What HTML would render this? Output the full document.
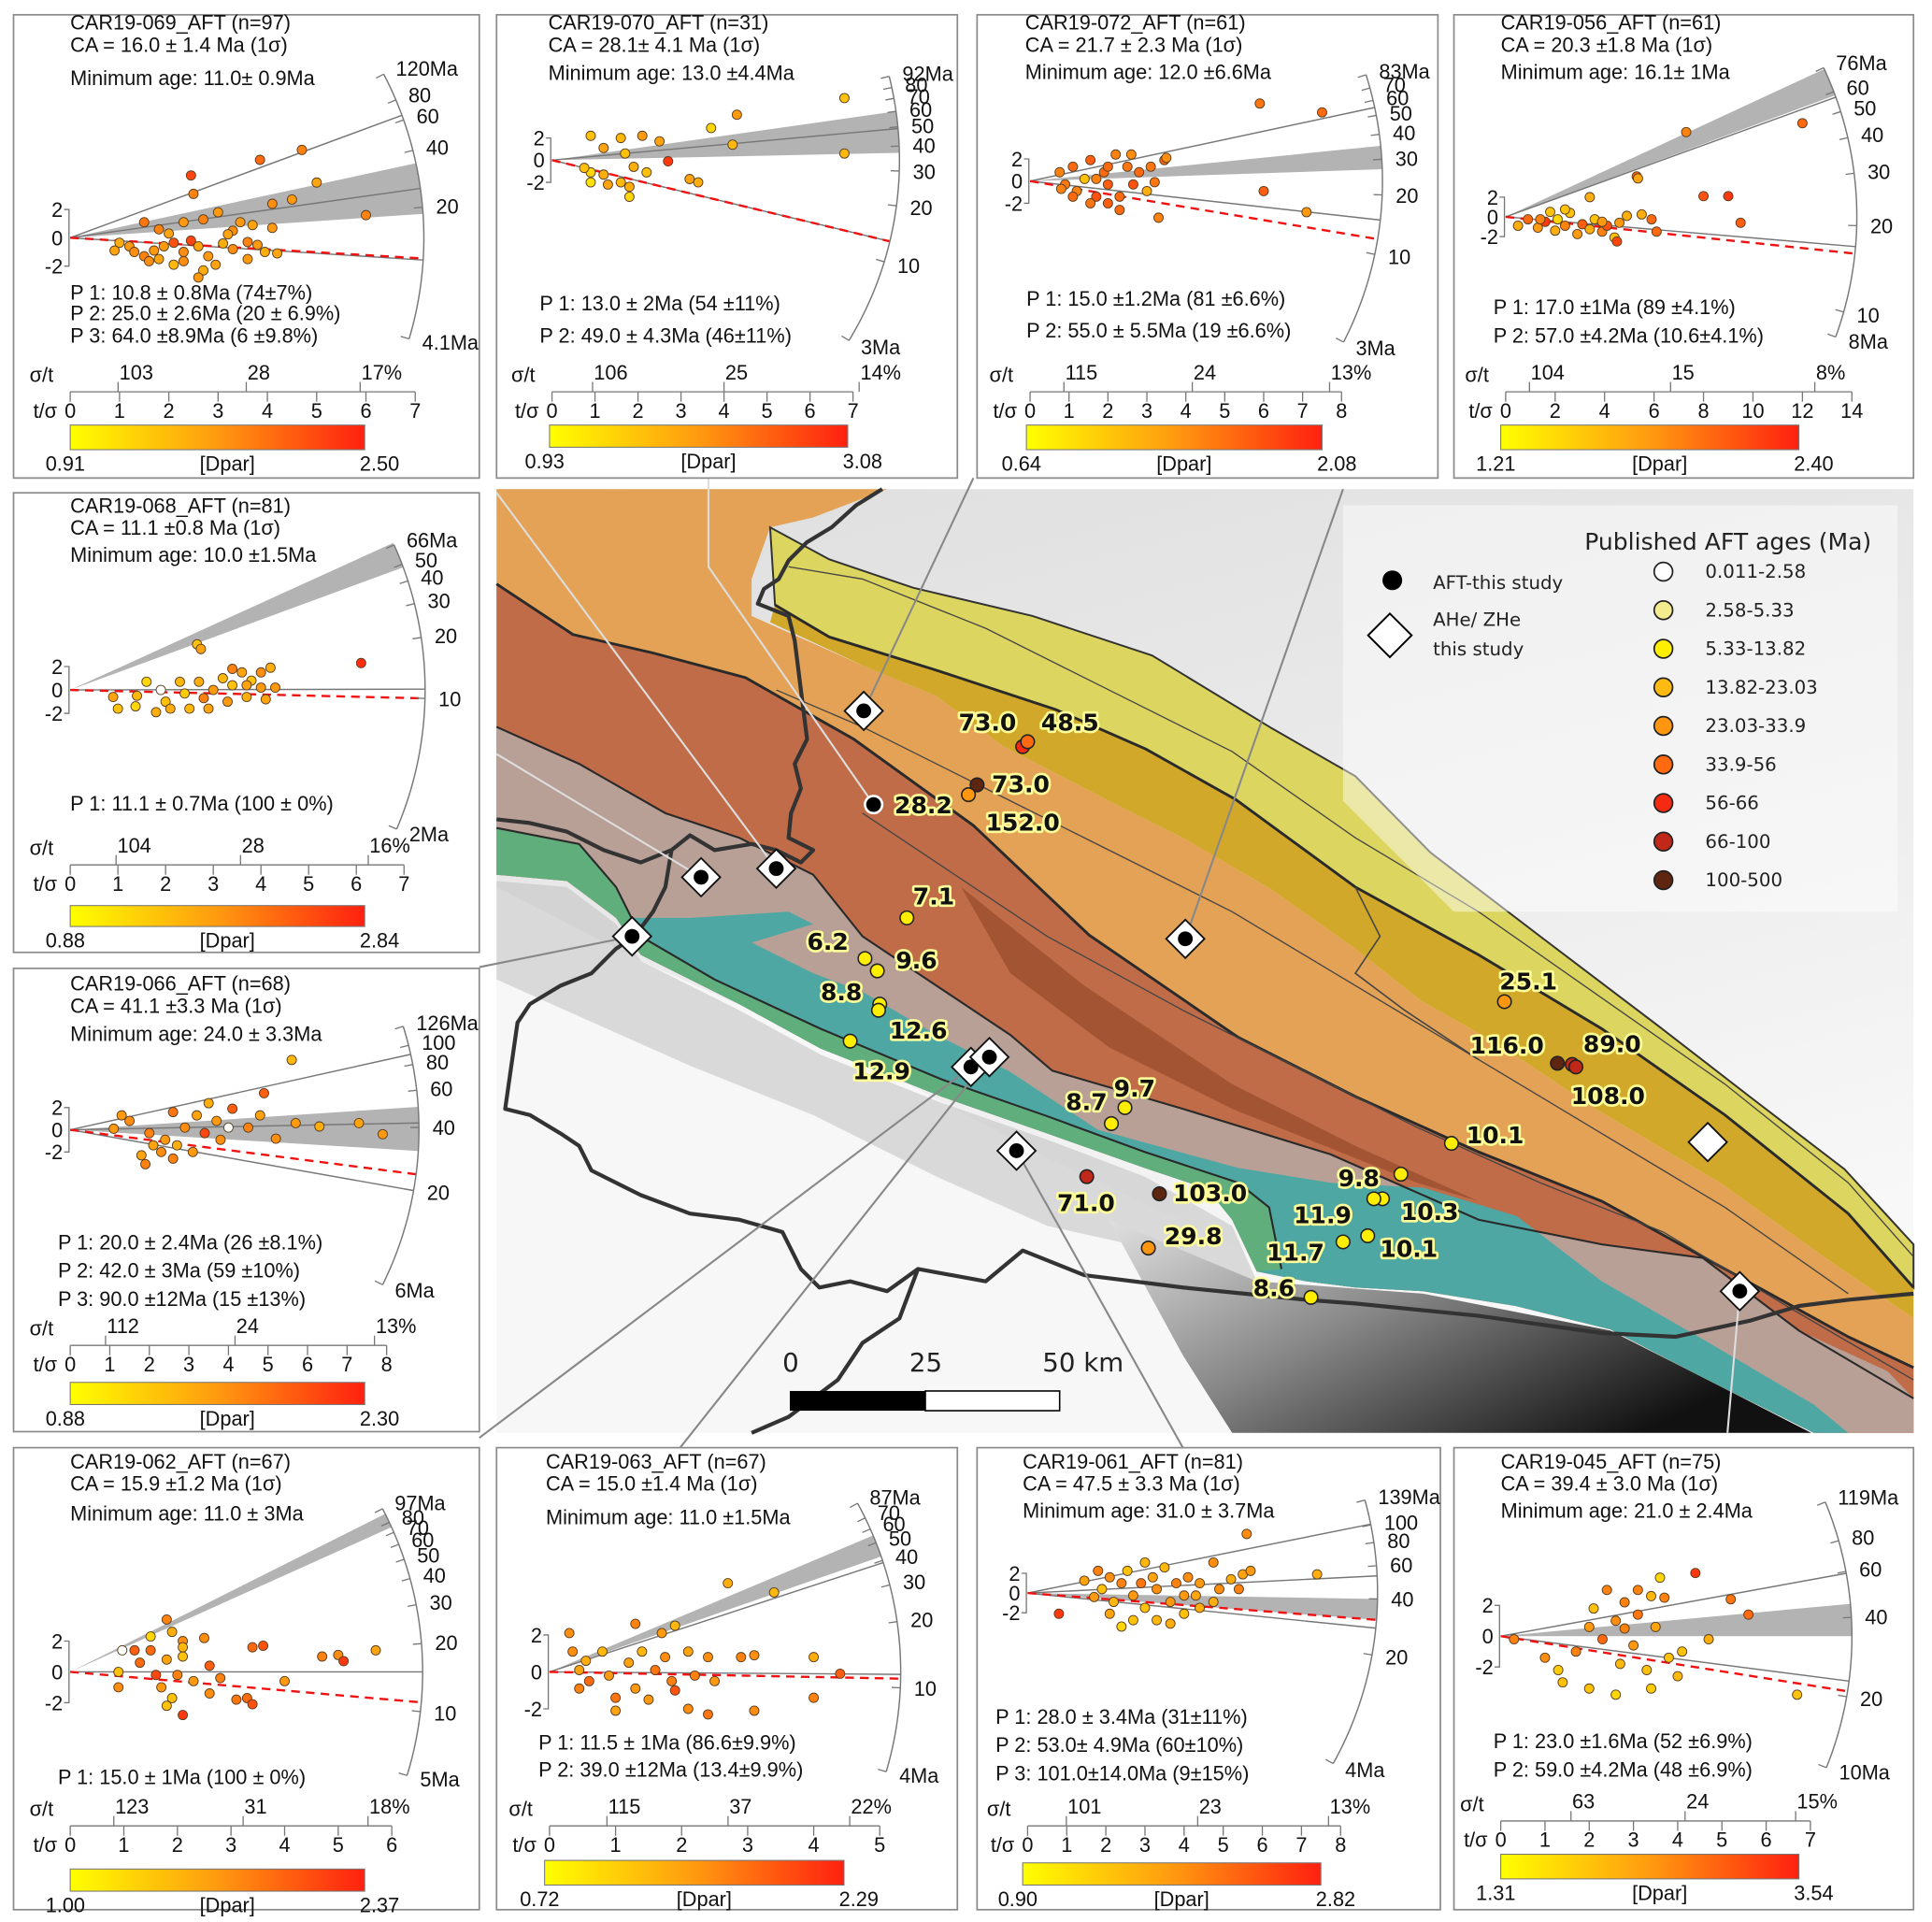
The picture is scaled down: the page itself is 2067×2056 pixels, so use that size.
<!DOCTYPE html>
<html><head><meta charset="utf-8"><style>
html,body{margin:0;padding:0;background:#fff;}
svg{display:block;}
.pt{font-family:"Liberation Sans",sans-serif;font-size:16.5px;fill:#111;}
.pw{font-family:"Liberation Sans",sans-serif;font-size:16.5px;fill:#111;}
.ml{font-family:"DejaVu Sans","Liberation Sans",sans-serif;font-weight:bold;font-size:19px;fill:#111;stroke:#ffff99;stroke-width:4px;paint-order:stroke;stroke-linejoin:round;}
.lg{font-family:"DejaVu Sans","Liberation Sans",sans-serif;font-size:15px;fill:#222;}
</style></head><body>
<svg id="fig" xmlns="http://www.w3.org/2000/svg" width="2067" height="2056" viewBox="0 0 1568 1560" preserveAspectRatio="none">
<defs>
<linearGradient id="cbg" x1="0" x2="1" y1="0" y2="0"><stop offset="0" stop-color="#ffff00"/><stop offset="0.5" stop-color="#ff9a10"/><stop offset="1" stop-color="#ff2010"/></linearGradient>
<linearGradient id="dark" x1="0" x2="1" y1="0" y2="0.6"><stop offset="0" stop-color="#e0e0e0"/><stop offset="0.45" stop-color="#8a8a8a"/><stop offset="1" stop-color="#111"/></linearGradient>
<linearGradient id="bgm" x1="0" x2="0.4" y1="0" y2="1"><stop offset="0" stop-color="#dedede"/><stop offset="0.55" stop-color="#ececec"/><stop offset="1" stop-color="#f8f8f8"/></linearGradient>
</defs>
<g id="map">
<rect x="403" y="397" width="1150" height="766" fill="url(#bgm)"/>
<polygon points="403,720 520,780 700,860 850,940 1000,1010 1100,1060 1300,1100 1470,1163 403,1163" fill="#f7f7f7"/>
<polygon points="403,715 460,720 500,750 520,780 600,820 666,856 764,895 850,925 929,955 1000,995 1020,1040 940,1015 850,995 760,955 660,905 560,865 470,825 403,795" fill="#c4c4c4" opacity="0.6"/>
<polygon points="900,990 1020,1040 1155,1050 1307,1080 1382,1118 1470,1163 1000,1163 960,1100" fill="url(#dark)"/>
<polygon fill="#e3a255" points="403,397 720,397 660,420 625,428 610,470 610,500 700,540 760,565 813,605 900,650 960,680 1032,722 1100,770 1153,812 1220,850 1295,900 1396,960 1480,1020 1553,1070 1553,1163 1472,1163 1382,1118 1307,1079 1230,1060 1155,1048 1100,1045 1060,1040 1020,1032 1000,990 980,965 929,948 850,920 764,890 666,851 600,815 520,775 500,745 460,715 403,710"/>
<polygon fill="#dcd660" stroke="#333" stroke-width="1.5" points="625,428 673,454 741,477 838,500 935,532 1032,591 1100,630 1161,692 1250,760 1345,832 1420,890 1497,949 1553,1010 1553,1045 1500,985 1400,905 1300,835 1200,775 1100,720 1003,649 930,608 857,576 760,544 673,517 629,491"/>
<polygon fill="#d2a82a" points="629,491 673,517 760,544 857,576 930,608 1003,649 1100,720 1200,775 1300,835 1400,905 1500,985 1553,1045 1553,1070 1480,1020 1396,960 1295,900 1220,850 1153,812 1100,770 1032,722 960,680 900,650 813,605 760,565 700,540 625,505"/>
<polygon fill="#c06c48" points="403,474 465,515 530,530 605,550 693,600 790,670 884,759 1005,842 1100,890 1200,935 1300,975 1400,1030 1500,1085 1553,1110 1553,1163 1472,1163 1382,1118 1307,1079 1230,1060 1155,1048 1100,1045 1060,1040 1020,1032 1000,990 980,965 929,948 850,920 764,890 666,851 600,815 520,775 500,745 460,715 403,710"/>
<polygon fill="#8a4322" opacity="0.55" points="780,720 880,800 1000,880 1100,930 1200,975 1150,960 1000,900 900,850 820,790"/>
<polygon fill="#b8a096" points="403,590 470,620 540,660 600,680 660,710 700,760 760,800 820,840 854,869 960,900 1080,937 1200,990 1300,1010 1382,1021 1460,1080 1532,1113 1553,1135 1553,1163 1472,1163 1382,1118 1307,1079 1230,1060 1155,1048 1100,1045 1060,1040 1020,1032 1000,990 980,965 929,948 850,920 764,890 666,851 600,815 520,775 500,745 460,715 403,710"/>
<polygon fill="#4ea7a2" points="510,745 560,745 640,740 660,750 610,765 660,790 700,805 760,840 820,870 891,917 1005,948 1080,960 1155,964 1231,987 1300,1040 1382,1087 1472,1140 1500,1163 1472,1163 1382,1118 1307,1079 1230,1060 1155,1048 1100,1045 1060,1040 1020,1032 1000,990 980,965 929,948 850,920 764,890 666,851 600,815 520,775"/>
<polygon fill="#5fae7c" points="403,672 470,685 500,720 520,760 580,795 666,835 764,876 850,906 929,935 980,952 1005,960 1030,980 1040,1030 1020,1032 1000,990 980,965 929,948 850,920 764,890 666,851 600,815 520,775 500,745 460,715 403,710"/>
<g fill="none" stroke="#2a2a2a">
<polyline stroke-width="2.2" points="403,474 465,515 530,530 605,550 693,600 790,670 884,759 1005,842 1100,890 1200,935 1300,975 1400,1030 1500,1085 1553,1110"/>
<polyline stroke-width="2.2" points="629,491 673,517 760,544 857,576 930,608 1003,649 1100,720 1200,775 1300,835 1400,905 1500,985 1553,1045"/>
<polyline stroke-width="1.6" points="403,590 470,620 540,660 600,680 660,710 700,760 760,800 820,840 854,869 960,900 1080,937 1200,990 1300,1010 1382,1021 1460,1080 1553,1135"/>
<polyline stroke-width="1.6" points="403,672 470,685 500,720 520,760 580,795 666,835 764,876 850,906 929,935 1005,960 1030,980 1040,1030"/>
<polyline stroke-width="1" stroke="#444" points="640,460 700,470 800,510 900,560 1000,610 1100,680 1200,740 1300,810 1400,880 1500,960 1553,1020"/>
<polyline stroke-width="1" stroke="#444" points="700,660 760,700 850,760 960,820 1060,870 1150,915 1250,960 1350,1000 1450,1060 1553,1120"/>
<polyline stroke-width="1" stroke="#444" points="630,560 700,590 800,640 900,690 1000,740 1100,800 1200,860 1300,920 1400,980 1500,1050"/>
<polyline stroke-width="1.2" stroke="#444" points="1100,720 1120,760 1100,790 1140,820 1200,860"/>
</g>
<g fill="none" stroke="#333" stroke-width="3.2" stroke-linejoin="round">
<polyline points="716,397 695,410 675,428 655,440 640,455 632,470 620,478 615,490 640,500 645,520 650,560 655,600 645,620 650,640 642,660 640,680 660,690 650,700 630,690 610,685 580,690 560,678 545,690 540,720 530,740 515,760 500,770 480,790 455,800 430,815 420,830 410,900 430,905 455,920 470,930 480,950 520,970 560,985 600,990 635,1000 650,1030 665,1045 690,1040 720,1048 745,1030 800,1040 830,1015 880,1035 960,1045 1010,1050 1060,1055 1100,1058 1200,1068 1300,1082 1360,1085 1420,1072 1460,1060 1500,1055 1553,1050"/>
<polyline points="403,665 430,668 460,675 490,690 520,700 545,690"/>
<polyline points="745,1030 730,1070 700,1090 680,1120 640,1150 610,1163"/>
</g>
<polygon points="1090,410 1540,410 1540,740 1180,740 1090,650" fill="#ffffff" opacity="0.45"/>
<g fill="none" stroke-width="1.6">
<polyline stroke="#ddd" points="403,400 630,705"/>
<polyline stroke="#ddd" points="575,388 575,460 709,653"/>
<polyline stroke="#ddd" points="403,612 569,712"/>
<polyline stroke="#888" points="389,785 513,760"/>
<polyline stroke="#888" points="790,388 701,577"/>
<polyline stroke="#888" points="1090,397 962,762"/>
<polyline stroke="#888" points="389,1167 788,866"/>
<polyline stroke="#888" points="552,1175 803,858"/>
<polyline stroke="#888" points="825,934 960,1175"/>
<polyline stroke="#ddd" points="1412,1048 1402,1163"/>
</g>
<g id="sites"></g>
<g>
<text class="lg" x="635" y="1113" style="font-size:21px">0</text>
<text class="lg" x="738" y="1113" style="font-size:21px">25</text>
<text class="lg" x="846" y="1113" style="font-size:21px">50 km</text>
<rect x="641" y="1129" width="110" height="16" fill="#000"/>
<rect x="751" y="1129" width="109" height="16" fill="#fff" stroke="#000" stroke-width="1.2"/>
</g>
<g>
<text class="lg" x="1286" y="446" style="font-size:19px">Published AFT ages (Ma)</text>
<circle cx="1130" cy="471" r="8" fill="#000"/>
<text class="lg" x="1163" y="478">AFT-this study</text>
<rect x="1116" y="503" width="25" height="25" fill="#fff" stroke="#000" stroke-width="1.5" transform="rotate(45 1128 515)"/>
<text class="lg" x="1163" y="508">AHe/ ZHe</text>
<text class="lg" x="1163" y="532">this study</text>
<g id="legItems"></g>
</g>
</g>
<g id="panels"></g>
</svg>
<script>
// ---------- chart data: per-panel points [t/sigma, standardized estimate, Dpar fraction] ----------
const pts069=[[2.45,4.4,.85],[2.5,3.1,.6],[4.7,6.2,.6],[3.85,5.5,.7],[5.0,3.9,.45],[6.0,1.6,.6],[4.5,2.7,.5],[4.1,2.4,.55],[1.5,1.1,.65],[1.8,.6,.6],[2.3,1.1,.5],[2.0,.3,.45],[2.7,1.3,.6],[3.0,1.8,.5],[3.3,.5,.55],[3.7,.9,.45],[4.1,.7,.5],[1.0,-.35,.4],[1.2,-.6,.5],[1.3,-1.0,.55],[1.5,-1.3,.6],[1.7,-.9,.5],[1.8,-1.5,.45],[2.1,-.35,.8],[2.3,-1.0,.55],[2.6,-.6,.45],[2.8,-1.3,.5],[3.1,-.4,.4],[3.3,-.8,.55],[3.6,-.3,.6],[3.8,-.5,.5],[4.2,-1.1,.45],[2.3,-1.65,.55],[2.1,-1.9,.35],[2.7,-2.3,.4],[2.95,-1.9,.45],[2.6,-2.8,.5],[1.6,-1.65,.55],[1.9,-.6,.5],[2.45,-.2,.85],[3.2,.25,.45],[3.45,1.1,.5],[.9,-.9,.45],[3.6,-1.5,.5],[3.95,-1.0,.4]];
const pts070=[[6.8,5.6,.3],[4.3,4.1,.5],[3.7,2.9,.2],[4.2,1.4,.35],[6.8,.6,.35],[2.7,-.1,.9],[.9,2.2,.3],[1.2,1.1,.45],[1.6,2.0,.35],[2.1,2.2,.5],[2.5,1.7,.45],[1.7,.6,.3],[1.9,-.6,.4],[2.2,-1.1,.3],[.9,-1.1,.2],[.9,-2.0,.15],[1.2,-1.3,.4],[1.3,-2.2,.45],[1.6,-2.0,.35],[1.8,-2.4,.4],[1.8,-3.3,.2],[3.4,-2.0,.4],[3.2,-1.7,.45],[.75,-.7,.3]];
const pts072=[[5.9,7.0,.65],[7.5,6.2,.7],[3.45,1.9,.7],[3.5,2.1,.55],[6.0,-.9,.75],[7.1,-2.8,.5],[3.3,-3.3,.6],[.76,.8,.6],[.9,-.3,.65],[1.1,1.3,.7],[1.2,-.9,.6],[1.4,.2,.3],[1.55,1.9,.75],[1.7,-1.4,.8],[1.9,.8,.7],[2.0,-.3,.75],[2.2,2.4,.6],[2.3,-1.4,.7],[2.5,1.3,.65],[2.65,-.3,.8],[2.8,.8,.7],[3.0,-.9,.4],[3.1,1.3,.65],[2.0,-2.0,.75],[2.3,-2.6,.7],[1.7,.2,.6],[1.1,-1.4,.7],[1.55,-2.0,.65],[2.6,2.4,.55],[2.0,1.3,.7],[3.2,-.1,.65],[.8,-.7,.6]];
const pts056=[[12.0,9.5,.7],[7.3,8.6,.6],[5.3,4.1,.75],[5.35,3.9,.45],[3.4,2.0,.4],[.5,-.9,.4],[.9,-.25,.7],[1.3,-1.1,.5],[1.6,-.5,.9],[1.8,.5,.3],[2.0,-1.4,.4],[2.1,-.25,.2],[2.4,-.9,.6],[2.6,.4,.3],[2.9,-1.75,.5],[3.1,-.75,.75],[3.4,-1.25,.4],[3.6,-.25,.3],[3.9,-1.5,.6],[4.1,-.9,.8],[4.4,-2.1,.3],[4.6,-.6,.5],[4.9,.1,.4],[5.5,.25,.4],[5.9,-.25,.7],[6.1,-1.5,.7],[4.5,-2.5,.85],[3.9,-.5,.5],[2.4,.75,.3],[1.4,-.25,.6],[8.0,2.1,.8],[9.0,2.1,.9],[9.5,-.6,.75]];
const pts068=[[2.66,3.9,.3],[2.74,3.5,.45],[6.1,2.3,.95],[1.37,-1.4,.2],[1.4,-.5,.35],[1.9,0,0],[2.0,-1.0,.3],[2.1,-1.6,.4],[2.4,-.3,.25],[2.5,-1.6,.35],[2.7,.7,.4],[2.8,-.7,.6],[2.9,-1.6,.45],[3.0,0,.5],[3.2,1.0,.35],[3.3,-1.0,.5],[3.4,.4,.3],[3.6,1.5,.45],[3.7,-.6,.4],[3.8,.8,.3],[4.0,1.5,.55],[4.1,-.8,.45],[4.2,1.9,.4],[4.3,.2,.5],[3.7,.4,.45],[.9,-.6,.45],[1.0,-1.6,.3],[1.6,.7,.2],[1.8,-1.9,.4],[2.3,.7,.35],[3.4,1.8,.6],[4.0,.2,.5]];
const pts066=[[5.6,6.3,.35],[4.9,3.3,.75],[1.3,1.3,.5],[1.5,.8,.55],[2.0,-.3,.6],[2.1,-1.4,.45],[2.3,-2.0,.55],[2.4,-.9,.5],[2.6,-2.6,.6],[2.7,-1.4,.4],[2.9,.2,.55],[3.1,-2.0,.5],[3.2,1.3,.45],[3.4,-.3,.85],[3.5,2.4,.4],[3.7,.8,.5],[3.8,-.9,.55],[4.1,1.9,.75],[4.5,.2,.6],[4.8,1.3,.45],[5.7,.6,.5],[6.3,.3,.4],[7.3,.6,.45],[7.9,-.4,.5],[5.2,-.8,.55],[1.8,-2.3,.45],[1.9,-3.1,.6],[1.1,.1,.5],[2.6,1.6,.65],[4.0,.2,0]];
const pts062=[[.97,1.4,0],[1.8,3.4,.6],[1.5,2.3,.2],[1.9,2.6,.4],[2.1,2.0,.55],[.9,0,.3],[.9,-1.0,.55],[1.2,1.4,.75],[1.3,.6,.7],[1.5,1.4,.7],[1.6,-.2,.85],[1.7,-1.0,.5],[1.8,.8,.45],[1.9,-1.7,.3],[2.0,-.2,.6],[2.1,1.0,.3],[2.3,-.6,.5],[2.5,2.2,.55],[2.6,.4,.75],[2.6,-1.4,.55],[2.8,-.4,.6],[3.1,-1.8,.65],[3.4,1.6,.7],[3.6,1.7,.8],[4.0,-.6,.5],[4.7,1.0,.6],[5.0,1.1,.55],[5.1,.7,.9],[5.7,1.4,.45],[3.3,-1.7,.7],[3.4,-2.1,.8],[1.8,-2.2,.3],[2.1,-2.8,.9],[2.1,1.6,.35]];
const pts063=[[3.4,4.3,.35],[2.7,4.8,.4],[.3,2.1,.55],[1.3,2.6,.6],[1.7,2.1,.5],[1.9,2.5,.35],[.35,1.1,.55],[.45,.1,.45],[.45,-.9,.6],[.55,.6,.4],[.6,-.5,.7],[.8,1.1,.35],[.9,-.2,.5],[1.0,-1.4,.65],[1.2,.5,.45],[1.3,-.9,.5],[1.4,1.1,.35],[1.5,-1.5,.5],[1.6,.1,.65],[1.75,.8,.55],[1.85,-.5,.6],[1.9,-1.0,.8],[2.1,1.1,.45],[2.2,-.2,.6],[2.4,.8,.55],[2.5,-.5,.5],[2.9,.8,.6],[3.1,.9,.55],[4.0,.8,.4],[4.4,-.1,.75],[4.0,-1.4,.6],[2.1,-2.0,.55],[2.4,-2.3,.65],[3.1,-2.1,.55],[1.0,-2.1,.45]];
const pts061=[[5.6,6.0,.55],[7.4,1.9,.4],[.8,-2.1,.9],[1.45,1.25,.45],[1.8,2.25,.6],[1.9,.4,.3],[2.1,1.6,.55],[2.2,-.9,.35],[2.4,1.0,.6],[2.55,2.25,.3],[2.7,-.25,.5],[2.9,1.0,.65],[3.0,-1.5,.3],[3.2,1.6,.45],[3.3,.4,.55],[3.5,2.6,.35],[3.65,-.9,.5],[3.8,1.0,.6],[4.0,-2.1,.3],[4.1,1.6,.55],[4.3,-.25,.45],[4.4,1.0,.5],[4.75,-.9,.4],[4.9,.4,.55],[5.2,1.4,.4],[5.4,.4,.6],[5.5,1.9,.45],[5.7,2.25,.5],[2.7,-2.75,.3],[2.4,-3.4,.2],[3.3,-2.75,.35],[3.65,-3.1,.4],[2.1,-2.1,.45],[4.75,3.1,.55],[1.7,-.4,.5],[3.0,3.1,.35],[4.4,-1.5,.4],[4.0,-.25,.5]];
const pts045=[[4.4,4.1,.9],[3.6,3.8,.2],[3.7,2.5,.6],[5.2,2.4,.65],[5.6,1.4,.7],[6.7,-3.8,.3],[4.7,-.2,.4],[4.1,-1.0,.3],[1.0,-1.4,.55],[1.3,-2.2,.25],[1.7,-1.0,.6],[2.0,.6,.5],[2.1,1.8,.3],[2.3,-.2,.7],[2.4,3.0,.6],[2.6,1.0,.55],[2.7,-1.8,.35],[2.8,2.2,.6],[3.0,-.6,.5],[3.1,1.4,.65],[3.3,-2.2,.3],[3.4,2.6,.35],[3.5,.6,.45],[3.8,-1.4,.3],[4.0,-2.6,.35],[3.4,-3.4,.25],[2.6,-3.8,.2],[2.0,-3.4,.3],[.3,-.2,.6],[1.4,-3.0,.3],[2.8,.5,.6],[3.1,3.0,.6]];

// ---------- panel layout configs (axes & annotations) ----------
const panels=[
{id:'069',pts:pts069,box:[11,12,378,376],O:[57,193],ux:40,uy:11.5,t0:14,k:.243,R:287,arc:[120,80,60,40,20,4.1],band:[18.5,34],lines:[64,25,10.8],red:11,sig:[103,28,17],nT:7,step:1,axY:318,cb:[57,345,239,20],cbl:['0.91','2.50'],tx:57,ty:[24,42,69],
 txt:['CAR19-069_AFT (n=97)','CA = 16.0 ± 1.4 Ma (1σ)','Minimum age: 11.0± 0.9Ma'],px:57,py:[243,260,278],pk:['P 1: 10.8 ± 0.8Ma (74±7%)','P 2: 25.0 ± 2.6Ma (20 ± 6.9%)','P 3: 64.0 ±8.9Ma (6 ±9.8%)']},
{id:'070',pts:pts070,box:[403,12,374,376],O:[448,130],ux:34.9,uy:9,t0:34,k:.25,R:282,arc:[92,80,70,60,50,40,30,20,10,3],band:[37,60],lines:[49,13],red:13,sig:[106,25,14],nT:7,step:1,axY:318,cb:[446,345,242,18],cbl:['0.93','3.08'],tx:445,ty:[24,42,65],
 txt:['CAR19-070_AFT (n=31)','CA = 28.1± 4.1 Ma (1σ)','Minimum age: 13.0 ±4.4Ma'],px:438,py:[252,278],pk:['P 1: 13.0 ± 2Ma (54 ±11%)','P 2: 49.0 ± 4.3Ma (46±11%)']},
{id:'072',pts:pts072,box:[793,12,374,376],O:[836,147],ux:31.6,uy:9,t0:23.4,k:.25,R:286,arc:[83,70,60,50,40,30,20,10,3],band:[26.8,35],lines:[55,15],red:12,sig:[115,24,13],nT:8,step:1,axY:318,cb:[833,345,240,20],cbl:['0.64','2.08'],tx:832,ty:[24,42,64],
 txt:['CAR19-072_AFT (n=61)','CA = 21.7 ± 2.3 Ma (1σ)','Minimum age: 12.0 ±6.6Ma'],px:833,py:[248,274],pk:['P 1: 15.0 ±1.2Ma (81 ±6.6%)','P 2: 55.0 ± 5.5Ma (19 ±6.6%)']},
{id:'056',pts:pts056,box:[1180,12,373,376],O:[1222,176],ux:20.07,uy:8,t0:21.4,k:.37,R:285,arc:[76,60,50,40,30,20,10,8],band:[58,75],lines:[57,17],red:16.1,sig:[104,15,8],nT:14,step:2,axY:318,cb:[1218,345,242,20],cbl:['1.21','2.40'],tx:1218,ty:[24,42,64],
 txt:['CAR19-056_AFT (n=61)','CA = 20.3 ±1.8 Ma (1σ)','Minimum age: 16.1± 1Ma'],px:1212,py:[255,278],pk:['P 1: 17.0 ±1Ma (89 ±4.1%)','P 2: 57.0 ±4.2Ma (10.6±4.1%)']},
{id:'068',pts:pts068,box:[11,400,378,373],O:[57,560],ux:38.7,uy:9.5,t0:11,k:.25,R:288,arc:[66,50,40,30,20,10,2],band:[48,68],lines:[11.1],red:10,sig:[104,28,16],nT:7,step:1,axY:702,cb:[57,735,239,17],cbl:['0.88','2.84'],tx:57,ty:[416,434,456],wide:1,
 txt:['CAR19-068_AFT (n=81)','CA = 11.1 ±0.8 Ma (1σ)','Minimum age: 10.0 ±1.5Ma'],px:57,py:[658],pk:['P 1: 11.1 ± 0.7Ma (100 ± 0%)']},
{id:'066',pts:pts066,box:[11,786,378,376],O:[57,917],ux:32.1,uy:9,t0:39,k:.265,R:283,arc:[126,100,80,60,40,20,6],band:[31,50],lines:[90,42,20],red:24,sig:[112,24,13],nT:8,step:1,axY:1092,cb:[57,1122,239,18],cbl:['0.88','2.30'],tx:57,ty:[804,822,845],wide:1,
 txt:['CAR19-066_AFT (n=68)','CA = 41.1 ±3.3 Ma (1σ)','Minimum age: 24.0 ± 3.3Ma'],px:47,py:[1014,1037,1060],pk:['P 1: 20.0 ± 2.4Ma (26 ±8.1%)','P 2: 42.0 ± 3Ma (59 ±10%)','P 3: 90.0 ±12Ma (15 ±13%)']},
{id:'062',pts:pts062,box:[11,1175,378,375],O:[57,1357],ux:43.5,uy:12.5,t0:15,k:.28,R:286,arc:[97,80,70,60,50,40,30,20,10,5],band:[75,90],lines:[15],red:11,sig:[123,31,18],nT:6,step:1,axY:1482,cb:[57,1517,239,18],cbl:['1.00','2.37'],tx:57,ty:[1192,1210,1234],wide:1,
 txt:['CAR19-062_AFT (n=67)','CA = 15.9 ±1.2 Ma (1σ)','Minimum age: 11.0 ± 3Ma'],px:47,py:[1448],pk:['P 1: 15.0 ± 1Ma (100 ± 0%)']},
{id:'063',pts:pts063,box:[403,1175,374,375],O:[446,1357],ux:53.6,uy:15,t0:11.8,k:.274,R:285,arc:[87,70,60,50,40,30,20,10,4],band:[42,55],lines:[39,11.5],red:11,sig:[115,37,22],nT:5,step:1,axY:1482,cb:[442,1510,243,20],cbl:['0.72','2.29'],tx:443,ty:[1192,1210,1237],wide:1,
 txt:['CAR19-063_AFT (n=67)','CA = 15.0 ±1.4 Ma (1σ)','Minimum age: 11.0 ±1.5Ma'],px:437,py:[1420,1442],pk:['P 1: 11.5 ± 1Ma (86.6±9.9%)','P 2: 39.0 ±12Ma (13.4±9.9%)']},
{id:'061',pts:pts061,box:[793,1175,376,375],O:[834,1293],ux:31.75,uy:8,t0:43,k:.235,R:284,arc:[139,100,80,60,40,20,4],band:[31,40],lines:[101,53,28],red:31,sig:[101,23,13],nT:8,step:1,axY:1482,cb:[830,1512,242,18],cbl:['0.90','2.82'],tx:830,ty:[1192,1210,1232],wide:1,
 txt:['CAR19-061_AFT (n=81)','CA = 47.5 ± 3.3 Ma (1σ)','Minimum age: 31.0 ± 3.7Ma'],px:808,py:[1399,1422,1445],pk:['P 1: 28.0 ± 3.4Ma (31±11%)','P 2: 53.0± 4.9Ma (60±10%)','P 3: 101.0±14.0Ma (9±15%)']},
{id:'045',pts:pts045,box:[1180,1175,373,375],O:[1218,1328],ux:35.9,uy:12.5,t0:34,k:.33,R:285,arc:[119,80,60,40,20,10],band:[34,45],lines:[59,23],red:21,sig:[63,24,15],nT:7,step:1,axY:1478,cb:[1218,1505,242,20],cbl:['1.31','3.54'],tx:1218,ty:[1192,1210,1232],wide:1,
 txt:['CAR19-045_AFT (n=75)','CA = 39.4 ± 3.0 Ma (1σ)','Minimum age: 21.0 ± 2.4Ma'],px:1212,py:[1419,1442],pk:['P 1: 23.0 ±1.6Ma (52 ±6.9%)','P 2: 59.0 ±4.2Ma (48 ±6.9%)']}
];

// ---------- map site data ----------
const siteAges=['73.0','48.5','73.0','152.0','7.1','6.2','9.6','8.8','12.6','12.9','8.7','9.7','71.0','103.0','29.8','25.1','116.0','89.0','108.0','10.1','9.8','10.3','11.9','11.7','10.1','8.6'];
const siteX=[830,834,793,786,736,702,712,714,713,690,902,913,882,941,932,1221,1264,1276,1279,1178,1137,1122,1115,1090,1110,1064];
const siteY=[606,602,637,645,745,778,788,815,820,845,912,899,955,969,1013,813,863,864,866,928,953,973,973,1008,1003,1053];
const siteCls=[6,5,8,4,2,2,2,2,2,2,2,2,7,8,4,4,8,7,7,2,2,2,2,2,2,2];
const labX=[778,845,805,800,741,655,727,666,722,692,865,904,858,952,945,1217,1193,1285,1275,1190,1086,1137,1050,1028,1120,1017];
const labY=[593,593,643,674,734,771,786,812,843,876,901,890,983,975,1010,803,855,854,896,928,963,990,993,1023,1020,1052];
const diamondsX=[701,630,569,513,788,803,825,962,1386,1412];
const diamondsY=[577,705,712,760,866,858,934,762,927,1048];
const diamondDot=[1,1,1,1,1,1,1,1,0,1];
const legendClasses=['0.011-2.58','2.58-5.33','5.33-13.82','13.82-23.03','23.03-33.9','33.9-56','56-66','66-100','100-500'];
const legendColors=['#ffffff','#f3ec8e','#ffee00','#ffba12','#ff960f','#ff6a10','#f62a12','#c0281a','#5e2510'];

const NS='http://www.w3.org/2000/svg';
function mk(tag,attrs,parent){const e=document.createElementNS(NS,tag);for(const a in attrs)e.setAttribute(a,attrs[a]);parent.appendChild(e);return e;}
function cmap(f){const a=[255,255,0],b=[255,154,16],c=[255,32,16];let p,q,u;if(f<.5){p=a;q=b;u=f/.5;}else{p=b;q=c;u=(f-.5)/.5;}return 'rgb('+p.map((v,i)=>Math.round(v+(q[i]-v)*u)).join(',')+')';}

// legend
const legG=document.getElementById('legItems');
legendClasses.forEach((lab,i)=>{
  const y=464+i*31.3;
  const c=mk('circle',{cx:1350,cy:y,r:7.5,fill:legendColors[i],stroke:'#222','stroke-width':1.3},legG);
  
  
  const t=mk('text',{x:1384,y:y+5,class:'lg'},legG);t.textContent=lab;
  
  
});
// sites
const sg=document.getElementById('sites');
diamondsX.forEach((x,i)=>{
  const d=mk('rect',{x:x-11,y:diamondsY[i]-11,width:22,height:22,fill:'#fff',stroke:'#111','stroke-width':1.4,transform:'rotate(45 '+x+' '+diamondsY[i]+')'},sg);
  
  
  if(diamondDot[i]){const c=mk('circle',{cx:x,cy:diamondsY[i],r:6,fill:'#000'},sg);
  
  }
});
const lone=mk('circle',{cx:709,cy:653,r:7,fill:'#000',stroke:'#fff','stroke-width':2},sg);


const l28=mk('text',{x:726,y:660,class:'ml'},sg);l28.textContent='28.2';


siteAges.forEach((a,i)=>{
  const c=mk('circle',{cx:siteX[i],cy:siteY[i],r:5.5,fill:legendColors[siteCls[i]],stroke:'#222','stroke-width':1.2},sg);
  
  
  const t=mk('text',{x:labX[i],y:labY[i],class:'ml'},sg);t.textContent=a;
  
  
});

// radial plots
const PG=document.getElementById('panels');
panels.forEach(P=>{
  const g=mk('g',{},PG);
  
  
  const cls=P.wide?'pw':'pt';
  const [ox,oy]=P.O;
  const slope=t=>-P.k*(Math.log(t)-Math.log(P.t0));
  const onArc=(t,r)=>{const s=slope(t),d=Math.sqrt(1+s*s);return [ox+r/d,oy+r*s/d];};
  const bx=mk('rect',{x:P.box[0],y:P.box[1],width:P.box[2],height:P.box[3],fill:'#fff',stroke:'#8a8a8a','stroke-width':1.3},g);
  
  
  const bp=[[ox,oy]];const n=20;
  for(let i=0;i<=n;i++){const t=Math.exp(Math.log(P.band[0])+(Math.log(P.band[1])-Math.log(P.band[0]))*i/n);bp.push(onArc(t,P.R));}
  const band=mk('polygon',{points:bp.map(p=>p.join(',')).join(' '),fill:'#b3b3b3'},g);
  
  
  P.lines.forEach(t=>{const e=onArc(t,P.R);const l=mk('line',{x1:ox,y1:oy,x2:e[0],y2:e[1],stroke:'#777','stroke-width':1.1},g);
    
    });
  const re=onArc(P.red,P.R);
  const rl=mk('line',{x1:ox,y1:oy,x2:re[0],y2:re[1],stroke:'#f01010','stroke-width':1.8,'stroke-dasharray':'7,5'},g);
  
  
  const tmin=P.arc[P.arc.length-1],tmax=P.arc[0];const ap=[];
  for(let i=0;i<=60;i++){const t=Math.exp(Math.log(tmin)+(Math.log(tmax)-Math.log(tmin))*i/60);ap.push(onArc(t,P.R));}
  const arc=mk('polyline',{points:ap.map(p=>p.join(',')).join(' '),fill:'none',stroke:'#777','stroke-width':1.1},g);
  
  
  P.arc.forEach((t,i)=>{
    const a=onArc(t,P.R-7),b=onArc(t,P.R),c=onArc(t,P.R+10);
    const tk=mk('line',{x1:a[0],y1:a[1],x2:b[0],y2:b[1],stroke:'#777','stroke-width':1},g);
    
    
    const lab=mk('text',{x:c[0]+1,y:c[1]+6,class:cls},g);
    lab.textContent=(i===0||i===P.arc.length-1)?t+'Ma':String(t);
    
    
  });
  const ya=mk('polyline',{points:(ox-5)+','+(oy-2*P.uy)+' '+(ox-1)+','+(oy-2*P.uy)+' '+(ox-1)+','+(oy+2*P.uy)+' '+(ox-5)+','+(oy+2*P.uy),fill:'none',stroke:'#777','stroke-width':1},g);
  
  
  [2,0,-2].forEach(v=>{const t=mk('text',{x:ox-6,y:oy-v*P.uy+6,class:cls,'text-anchor':'end'},g);t.textContent=String(v);
    
    });
  P.pts.forEach(p=>{const c=mk('circle',{cx:ox+p[0]*P.ux,cy:oy-p[1]*P.uy,r:3.8,fill:p[2]===0?'#fff':cmap(p[2]),stroke:'#5a4020','stroke-width':.7},g);
    
    });
  const ux=P.ux, ay=P.axY, xEnd=ox+P.nT*ux;
  const bl=mk('line',{x1:ox,y1:ay,x2:xEnd,y2:ay,stroke:'#777','stroke-width':1},g);
  
  
  for(let v=0;v<=P.nT;v+=P.step){
    const x=ox+v*ux;
    const tk=mk('line',{x1:x,y1:ay,x2:x,y2:ay+8,stroke:'#777','stroke-width':1},g);
    
    
    const t=mk('text',{x:x,y:ay+21,class:cls,'text-anchor':'middle'},g);t.textContent=String(v);
    
    
  }
  P.sig.forEach((s,i)=>{
    const x=ox+(100/s)*ux;
    const tk=mk('line',{x1:x,y1:ay-8,x2:x,y2:ay,stroke:'#777','stroke-width':1},g);
    
    
    const t=mk('text',{x:x+1,y:ay-10,class:cls},g);t.textContent=s+(i===P.sig.length-1?'%':'');
    
    
  });
  const st=mk('text',{x:ox-33,y:ay-8,class:cls},g);st.textContent='σ/t';
  
  
  const ts=mk('text',{x:ox-30,y:ay+21,class:cls},g);ts.textContent='t/σ';
  
  
  const cb=mk('rect',{x:P.cb[0],y:P.cb[1],width:P.cb[2],height:P.cb[3],fill:'url(#cbg)',stroke:'#777','stroke-width':.8},g);
  
  
  const ly=P.cb[1]+P.cb[3]+17;
  const c1=mk('text',{x:P.cb[0]-4,y:ly,class:cls,'text-anchor':'middle'},g);c1.textContent=P.cbl[0];
  
  
  const c2=mk('text',{x:P.cb[0]+P.cb[2]/2+8,y:ly,class:cls,'text-anchor':'middle'},g);c2.textContent='[Dpar]';
  
  
  const c3=mk('text',{x:P.cb[0]+P.cb[2]+12,y:ly,class:cls,'text-anchor':'middle'},g);c3.textContent=P.cbl[1];
  
  
  P.txt.forEach((s,i)=>{const t=mk('text',{x:P.tx,y:P.ty[i],class:cls},g);t.textContent=s;
    
    });
  P.pk.forEach((s,i)=>{const t=mk('text',{x:P.px,y:P.py[i],class:cls},g);t.textContent=s;
    
    });
});
</script>
</body></html>
